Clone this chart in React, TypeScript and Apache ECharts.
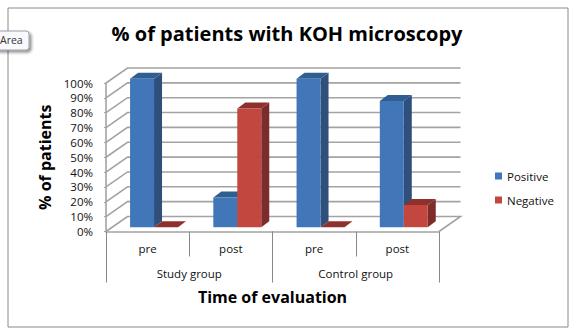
import React, { useEffect, useRef } from "react";
import * as echarts from "echarts";

const subCategories = ["pre", "post", "pre", "post"];
const groups = ["Study group", "Control group"];
const positive = [100, 20, 100, 85];
const negative = [0, 80, 0, 15];
const yTicks = [0, 10, 20, 30, 40, 50, 60, 70, 80, 90, 100];

const FONT = "'Open Sans', 'Noto Sans', sans-serif";
const GRID_COLOR = "#a3a3a3";
const DEPTH_X = 21.5;
const DEPTH_Y = -15;

function wallRender(params: any, api: any) {
  const v = api.value(1);
  const y = api.coord([0, v])[1];
  const cs = params.coordSys;
  const x0 = cs.x;
  const x1 = cs.x + cs.width;
  const pts: number[][] = [
    [x0, y],
    [x0 + DEPTH_X, y + DEPTH_Y],
    [x1 + DEPTH_X, y + DEPTH_Y],
  ];
  if (v === 0) pts.push([x1, y]);
  return {
    type: "polyline",
    shape: { points: pts },
    style: { stroke: GRID_COLOR, fill: "none", lineWidth: 1.6 },
    silent: true,
  };
}

function barRender(side: number, front: any, sideC: string, topC: string) {
  return (_params: any, api: any) => {
    const band = api.size([1, 0])[0];
    const w = band * 0.288;
    const c = api.coord([api.value(0), api.value(1)]);
    const base = api.coord([api.value(0), 0]);
    const shiftX = band * 0.077;
    const shiftY = -4.3;
    const xl = c[0] + shiftX + (side === 0 ? -w : 0);
    const xr = xl + w;
    const yt = c[1] + shiftY;
    const yb = base[1] + shiftY;
    const dx = 8;
    const dy = -6;
    return {
      type: "group",
      children: [
        {
          type: "polygon",
          shape: { points: [[xr, yt], [xr + dx, yt + dy], [xr + dx, yb + dy], [xr, yb]] },
          style: { fill: sideC },
        },
        {
          type: "polygon",
          shape: { points: [[xl, yt], [xl + dx, yt + dy], [xr + dx, yt + dy], [xr, yt]] },
          style: { fill: topC },
        },
        {
          type: "rect",
          shape: { x: xl, y: yt, width: w, height: Math.max(yb - yt, 0) },
          style: { fill: front },
        },
      ],
    };
  };
}

export default function App() {
  const ref = useRef<HTMLDivElement>(null);
  useEffect(() => {
    document.body.style.margin = "0";
    document.body.style.background = "#fff";
    const chart = echarts.init(ref.current!, undefined, { renderer: "svg" });
    chart.setOption({
      animation: false,
      backgroundColor: "#fff",
      textStyle: { fontFamily: FONT },
      title: {
        text: "% of patients with KOH microscopy",
        left: 282,
        top: 18,
        textAlign: "center",
        textStyle: { fontFamily: FONT, fontSize: 20, fontWeight: "bold", color: "#000" },
      },
      legend: {
        data: ["Positive", "Negative"],
        orient: "vertical",
        left: 495,
        top: 170,
        padding: 0,
        itemWidth: 7,
        itemHeight: 7,
        itemGap: 12,
        icon: "rect",
        textStyle: { fontFamily: FONT, fontSize: 11.5, color: "#111" },
      },
      grid: { left: 106, top: 83, width: 333, height: 148.5 },
      xAxis: [
        {
          type: "category",
          data: subCategories,
          position: "bottom",
          boundaryGap: true,
          axisLine: { show: true, lineStyle: { color: GRID_COLOR, width: 1.6 } },
          axisTick: { show: true, length: 25, alignWithLabel: false, lineStyle: { color: "#888" } },
          axisLabel: { margin: 11, fontSize: 11.5, color: "#111", fontFamily: FONT, interval: 0 },
        },
        {
          type: "category",
          data: groups,
          position: "bottom",
          boundaryGap: true,
          axisLine: { show: false },
          axisTick: { show: true, length: 51, alignWithLabel: false, lineStyle: { color: "#888" } },
          axisLabel: { margin: 36, fontSize: 11.5, color: "#111", fontFamily: FONT, interval: 0 },
          name: "Time of evaluation",
          nameLocation: "middle",
          nameGap: 57,
          nameTextStyle: { fontFamily: FONT, fontSize: 16, fontWeight: "bold", color: "#000" },
        },
      ],
      yAxis: {
        type: "value",
        min: 0,
        max: 100,
        interval: 10,
        axisLine: { show: true, lineStyle: { color: GRID_COLOR, width: 1.6 } },
        axisTick: { show: true, length: 2, lineStyle: { color: GRID_COLOR } },
        splitLine: { show: false },
        axisLabel: {
          formatter: "{value}%",
          margin: 13,
          fontSize: 11.5,
          color: "#111",
          fontFamily: FONT,
        },
        name: "% of patients",
        nameLocation: "middle",
        nameRotate: 90,
        nameGap: 50,
        nameTextStyle: { fontFamily: FONT, fontSize: 16, fontWeight: "bold", color: "#000" },
      },
      series: [
        {
          type: "custom",
          name: "walls",
          silent: true,
          z: 1,
          clip: false,
          renderItem: wallRender,
          data: yTicks.map((v) => [0, v]),
        },
        {
          type: "custom",
          name: "Positive",
          z: 2,
          clip: false,
          itemStyle: { color: "#4177b8" },
          renderItem: barRender(0, "#4177b8", "#2f4f7c", "#2f5f90"),
          data: positive.map((v, i) => [i, v]),
        },
        {
          type: "custom",
          name: "Negative",
          z: 3,
          clip: false,
          itemStyle: { color: "#c2483f" },
          renderItem: barRender(1, "#c2483f", "#7c2c2a", "#8e302c"),
          data: negative.map((v, i) => [i, v]),
        },
      ],
      graphic: [
        {
          type: "rect",
          shape: { x: 8, y: 8, width: 560, height: 319 },
          style: { fill: "none", stroke: "#8a8a8a", lineWidth: 1 },
          silent: true,
        },
        {
          type: "rect",
          shape: { x: -6, y: 31, width: 35, height: 19, r: 3 },
          style: {
            fill: "#f7f9fc",
            stroke: "#9aa0a8",
            lineWidth: 1,
            shadowBlur: 3,
            shadowOffsetX: 2,
            shadowOffsetY: 2,
            shadowColor: "rgba(0,0,0,0.45)",
          },
          silent: true,
        },
        {
          type: "text",
          x: 0,
          y: 34,
          style: { text: "Area", fontSize: 10.5, fontFamily: FONT, fill: "#333" },
          silent: true,
        },
      ],
    });
    return () => chart.dispose();
  }, []);
  return <div ref={ref} style={{ width: 577, height: 331 }} />;
}
